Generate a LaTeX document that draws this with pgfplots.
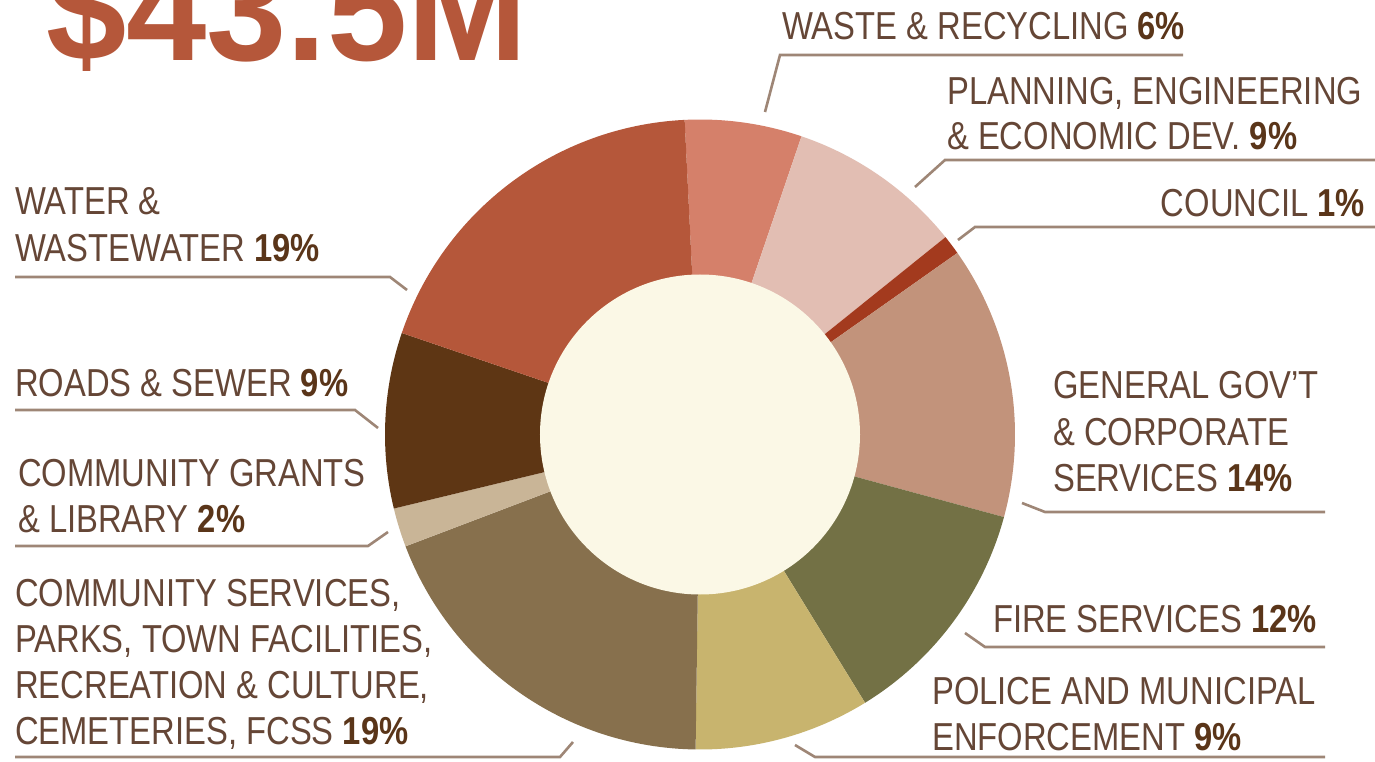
\documentclass[border=0pt]{standalone}
\usepackage{pgfplots}
\pgfplotsset{compat=1.18}
\usepackage{pgfplotstable}
\usepackage{fontspec}
\setmainfont{Liberation Sans}[FakeStretch=0.84]
\newfontfamily\titlefont{Liberation Sans}[FakeStretch=0.975]

\definecolor{cWater}{HTML}{B5573A}
\definecolor{cWaste}{HTML}{D5806A}
\definecolor{cPlan}{HTML}{E2BEB3}
\definecolor{cCouncil}{HTML}{A33A1E}
\definecolor{cGov}{HTML}{C2937B}
\definecolor{cFire}{HTML}{737145}
\definecolor{cPolice}{HTML}{C8B46E}
\definecolor{cComm}{HTML}{87704D}
\definecolor{cGrant}{HTML}{C9B597}
\definecolor{cRoads}{HTML}{5E3614}
\definecolor{cInner}{HTML}{FBF8E6}
\definecolor{txt}{HTML}{654636}
\definecolor{pct}{HTML}{5A3519}
\definecolor{lead}{HTML}{9E8676}

% budget shares, clockwise from the top
\pgfplotstableread{
share colour
6  cWaste
9  cPlan
1  cCouncil
14 cGov
12 cFire
9  cPolice
19 cComm
2  cGrant
9  cRoads
19 cWater
}\budget

\newcommand{\lab}[3]{\node[anchor=base west,inner sep=0pt,text=txt] at (axis cs:#1,#2) {#3};}
\newcommand{\p}[1]{\textbf{\color{pct}#1}}

\begin{document}
\begin{tikzpicture}
\useasboundingbox (0,0) rectangle (1375bp,762bp);
\clip (0,0) rectangle (1375bp,762bp);
\fill[white] (0,0) rectangle (1375bp,762bp);
\begin{axis}[
    at={(0,0)}, anchor=origin,
    x=1bp, y=1bp,
    xmin=0, xmax=1375, ymin=0, ymax=762,
    hide axis, clip=false,
    font=\fontsize{39bp}{46bp}\selectfont,
]
    \def\cx{700}\def\cy{327.5}
    \def\cum{0}
    \pgfplotsforeachungrouped \i in {0,...,9}{%
        \pgfplotstablegetelem{\i}{share}\of\budget
        \let\v\pgfplotsretval
        \pgfplotstablegetelem{\i}{colour}\of\budget
        \let\c\pgfplotsretval
        \pgfmathsetmacro\a{92.8-3.6*\cum}
        \pgfmathsetmacro\b{92.8-3.6*(\cum+\v)}
        \pgfmathsetmacro\xa{\cx+315*cos(\a)}
        \pgfmathsetmacro\ya{\cy+315*sin(\a)}
        \edef\temp{\noexpand\fill[\c] (axis cs:\cx,\cy) -- (axis cs:\xa,\ya)
            arc[start angle=\a, end angle=\b, radius=315bp] -- cycle;}
        \temp
        \pgfmathsetmacro\cum{\cum+\v}
        \global\let\cum\cum
    }
    \fill[cInner] (axis cs:\cx,\cy) circle[radius=160bp];

    % title
    \node[anchor=base west,inner sep=0pt,text=cWater,
          font=\titlefont\bfseries\fontsize{148bp}{148bp}\selectfont]
        at (axis cs:46,701) {\$43.5M};

    % leader lines
    \begin{scope}[draw=lead, line width=2.6bp]
    \draw (axis cs:765,650) -- (axis cs:780,707) -- (axis cs:1183,707);
    \draw (axis cs:915,575) -- (axis cs:945,602) -- (axis cs:1375,602);
    \draw (axis cs:958,522) -- (axis cs:975,535) -- (axis cs:1375,535);
    \draw (axis cs:407,472) -- (axis cs:390,485) -- (axis cs:15,485);
    \draw (axis cs:378,334) -- (axis cs:355,352) -- (axis cs:15,352);
    \draw (axis cs:1022,259) -- (axis cs:1045,250) -- (axis cs:1325,250);
    \draw (axis cs:388,230) -- (axis cs:368,216) -- (axis cs:15,216);
    \draw (axis cs:573,20) -- (axis cs:560,5) -- (axis cs:15,5);
    \draw (axis cs:965,129) -- (axis cs:985,115) -- (axis cs:1325,115);
    \draw (axis cs:795,17) -- (axis cs:815,5) -- (axis cs:1325,5);
    \end{scope}

    % labels
    \lab{782}{722}{WASTE \& RECYCLING \p{6\%}}
    \lab{947}{657}{PLANNING, ENGINEERING}
    \lab{947}{612}{\& ECONOMIC DEV. \p{9\%}}
    \node[anchor=base east,inner sep=0pt,text=txt] at (axis cs:1365,545) {COUNCIL \p{1\%}};
    \lab{15}{547}{WATER \&}
    \lab{15}{500}{WASTEWATER \p{19\%}}
    \lab{15}{366}{ROADS \& SEWER \p{9\%}}
    \lab{1053}{364}{GENERAL GOV’T}
    \lab{1053}{317}{\& CORPORATE}
    \lab{1053}{271}{SERVICES \p{14\%}}
    \lab{18}{276}{COMMUNITY GRANTS}
    \lab{18}{230}{\& LIBRARY \p{2\%}}
    \lab{15}{156}{COMMUNITY SERVICES,}
    \lab{15}{110}{PARKS, TOWN FACILITIES,}
    \lab{15}{64}{RECREATION \& CULTURE,}
    \lab{15}{18}{CEMETERIES, FCSS \p{19\%}}
    \lab{993}{130}{FIRE SERVICES \p{12\%}}
    \lab{932}{58}{POLICE AND MUNICIPAL}
    \lab{932}{12}{ENFORCEMENT \p{9\%}}
\end{axis}
\end{tikzpicture}
\end{document}
